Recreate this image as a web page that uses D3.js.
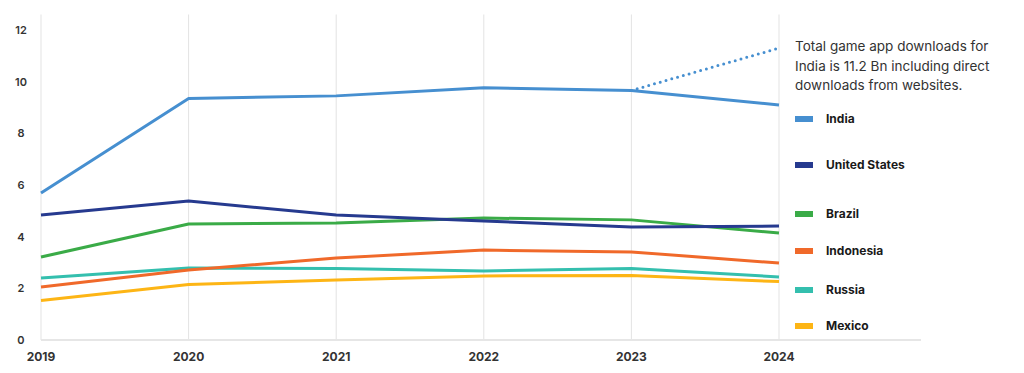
<!DOCTYPE html>
<html>
<head>
<meta charset="utf-8">
<script src="https://cdn.jsdelivr.net/npm/d3@7"></script>
<style>
  body { margin: 0; background: #fff; }
  svg { font-family: Inter, "Noto Sans", sans-serif; }
  .tick-y { font-size: 11px; font-weight: 600; fill: #333; }
  .tick-x { font-size: 12px; font-weight: 700; fill: #333; }
  .legend-text { font-size: 12px; font-weight: 700; fill: #1a1a1a; }
  .note { font-size: 13.5px; fill: #333; }
</style>
</head>
<body>
<div id="chart"></div>
<script>
const years = [2019, 2020, 2021, 2022, 2023, 2024];
const countries = ["India", "United States", "Brazil", "Indonesia", "Russia", "Mexico"];
const colors = ["#468fd0", "#263a8f", "#3aab47", "#f0692a", "#34bfae", "#fdb515"];

const india = [5.69, 9.35, 9.45, 9.76, 9.66, 9.1];
const unitedStates = [4.84, 5.38, 4.84, 4.61, 4.37, 4.41];
const brazil = [3.21, 4.49, 4.53, 4.72, 4.65, 4.14];
const indonesia = [2.05, 2.71, 3.17, 3.48, 3.41, 2.98];
const russia = [2.4, 2.79, 2.77, 2.67, 2.77, 2.44];
const mexico = [1.53, 2.15, 2.32, 2.48, 2.5, 2.26];

// India incl. direct downloads (dotted)
const indiaTotalYears = [2023, 2024];
const indiaTotal = [9.66, 11.3];

const yTicks = [0, 2, 4, 6, 8, 10, 12];
const noteLines = ["Total game app downloads for", "India is 11.2 Bn including direct", "downloads from websites."];

const series = [india, unitedStates, brazil, indonesia, russia, mexico];

const width = 1024, height = 373;
const svg = d3.select("#chart").append("svg")
    .attr("width", width)
    .attr("height", height);

const x = d3.scaleLinear().domain([2019, 2024]).range([41, 779]);
const y = d3.scaleLinear().domain([0, 12]).range([340, 30]);

// vertical gridlines
svg.append("g").selectAll("line")
    .data(years)
    .join("line")
    .attr("x1", d => x(d)).attr("x2", d => x(d))
    .attr("y1", y(12.6)).attr("y2", y(0))
    .attr("stroke", "#e3e3e3")
    .attr("stroke-width", 1);

// baseline
svg.append("line")
    .attr("x1", x(2019)).attr("x2", 921)
    .attr("y1", y(0)).attr("y2", y(0))
    .attr("stroke", "#e6e6e6")
    .attr("stroke-width", 2);

// y tick labels
svg.append("g").selectAll("text")
    .data(yTicks)
    .join("text")
    .attr("class", "tick-y")
    .attr("x", 21)
    .attr("y", d => y(d))
    .attr("dy", "0.35em")
    .attr("text-anchor", "middle")
    .text(d => d);

// x tick labels
svg.append("g").selectAll("text")
    .data(years)
    .join("text")
    .attr("class", "tick-x")
    .attr("x", d => x(d))
    .attr("y", 361)
    .attr("text-anchor", "middle")
    .text(d => d);

const line = d3.line()
    .x((d, i) => x(years[i]))
    .y(d => y(d));

// draw from bottom to top so India sits on top
series.slice().reverse().forEach((vals, k) => {
    let i = series.length - 1 - k;
    svg.append("path")
        .datum(vals)
        .attr("d", line)
        .attr("fill", "none")
        .attr("stroke", colors[i])
        .attr("stroke-width", 3)
        .attr("stroke-linejoin", "round");
});

// dotted India total line
svg.append("path")
    .datum(indiaTotal)
    .attr("d", d3.line().x((d, i) => x(indiaTotalYears[i])).y(d => y(d)))
    .attr("fill", "none")
    .attr("stroke", colors[0])
    .attr("stroke-width", 3)
    .attr("stroke-dasharray", "0 6")
    .attr("stroke-linecap", "round");

// note text
svg.append("g").selectAll("text")
    .data(noteLines)
    .join("text")
    .attr("class", "note")
    .attr("x", 795)
    .attr("y", (d, i) => 51 + i * 19.5)
    .text(d => d);

// legend
const legendY = [119, 165, 214, 251, 290, 326];
const legend = svg.append("g").selectAll("g")
    .data(countries)
    .join("g")
    .attr("transform", (d, i) => `translate(795, ${legendY[i]})`);

legend.append("rect")
    .attr("x", 0).attr("y", -3)
    .attr("width", 18).attr("height", 6)
    .attr("fill", (d, i) => colors[i]);

legend.append("text")
    .attr("class", "legend-text")
    .attr("x", 31)
    .attr("dy", "0.35em")
    .text(d => d);
</script>
</body>
</html>
